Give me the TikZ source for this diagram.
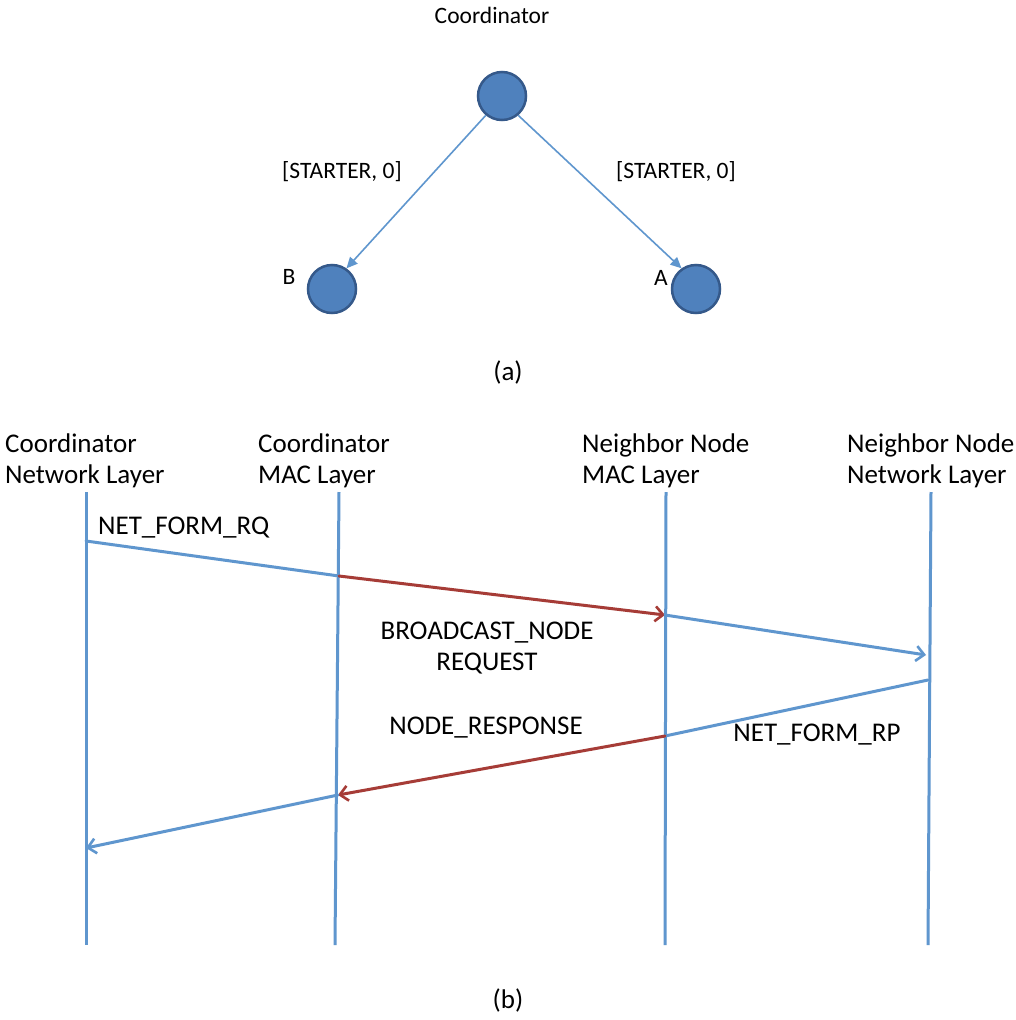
\documentclass[tikz,border=0pt]{standalone}
\usepackage{fontspec}
\setmainfont{Carlito}
\usetikzlibrary{arrows.meta}
\definecolor{lineblue}{HTML}{5F96CE}
\definecolor{nodefill}{HTML}{4F81BD}
\definecolor{nodeedge}{HTML}{35598A}
\definecolor{msgred}{HTML}{A63C37}
\tikzset{
  dot/.style={circle,fill=nodefill,draw=nodeedge,line width=2.5pt,minimum size=48pt,inner sep=0pt},
  small/.style={font=\fontsize{23.5}{28}\selectfont,inner sep=0pt},
  big/.style={font=\fontsize{27}{31}\selectfont,inner sep=0pt},
  head/.style={big,align=left,anchor=north west},
  tree/.style={draw=lineblue,line width=1.6pt,-{Triangle[length=11pt,width=10pt]}},
  life/.style={draw=lineblue,line width=3pt},
  msg/.style={draw=lineblue,line width=3pt,line cap=round},
  msgarrow/.style={msg,-{Straight Barb[length=8pt,width=15pt,line width=2.6pt]}},
  redarrow/.style={draw=msgred,line width=3pt,line cap=round,-{Straight Barb[length=8pt,width=15pt,line width=2.6pt]}},
}
\begin{document}
\begin{tikzpicture}[x=1pt,y=-1pt]
\useasboundingbox[fill=white] (0,0) rectangle (1016,1020);

% ---- (a) starter broadcast ----
\node[small] (ctitle) at (492,15) {Coordinator};
\node[dot] (coord) at (502,96) {};
\node[dot] (nb) at (332,289) {};
\node[dot] (na) at (696,289) {};
\node[small] (lb) at (289,277) {B};
\node[small] (la) at (661,278) {A};
\draw[tree] (coord.-130) -- (nb.55);
\draw[tree] (coord.-50) -- (na.125);
\node[small] (sl) at (342,172) {[STARTER, 0]};
\node[small] (sr) at (676,172) {[STARTER, 0]};
\node[big] (capa) at (508,372) {(a)};

% ---- (b) lifelines ----
\node[head] (h1) at (5,434) {Coordinator\\Network Layer};
\node[head] (h2) at (258,434) {Coordinator\\MAC Layer};
\node[head] (h3) at (582,434) {Neighbor Node\\MAC Layer};
\node[head] (h4) at (847,434) {Neighbor Node\\Network Layer};

\coordinate (t1) at (86,492);  \coordinate (b1) at (86,945);
\coordinate (t2) at (339,492); \coordinate (b2) at (335,945);
\coordinate (t3) at (666,492); \coordinate (b3) at (665,945);
\coordinate (t4) at (931,492); \coordinate (b4) at (928,945);
\draw[life] (t1) -- (b1);
\draw[life] (t2) -- (b2);
\draw[life] (t3) -- (b3);
\draw[life] (t4) -- (b4);

% request path
\coordinate (r1) at (86,541);
\coordinate (r2) at (339,576);
\coordinate (r3) at (665,615);
\coordinate (r4) at (926,655);
\draw[msg] (r1) -- (r2);
\draw[redarrow] (r2) -- (r3);
\draw[msgarrow] (r3) -- (r4);

% response path
\coordinate (p4) at (928,680);
\coordinate (p3) at (665,736);
\coordinate (p2) at (338,795);
\coordinate (p1) at (86,848);
\draw[msg] (p4) -- (p3);
\draw[redarrow] (p3) -- (p2);
\draw[msgarrow] (p2) -- (p1);

% message labels
\node[big,anchor=west] (m1) at (98,528) {NET\_FORM\_RQ};
\node[big,align=center] (m2) at (487,648) {BROADCAST\_NODE\\REQUEST};
\node[big] (m3) at (486,728) {NODE\_RESPONSE};
\node[big] (m4) at (817,735) {NET\_FORM\_RP};
\node[big] (capb) at (508,1000) {(b)};
\end{tikzpicture}
\end{document}
